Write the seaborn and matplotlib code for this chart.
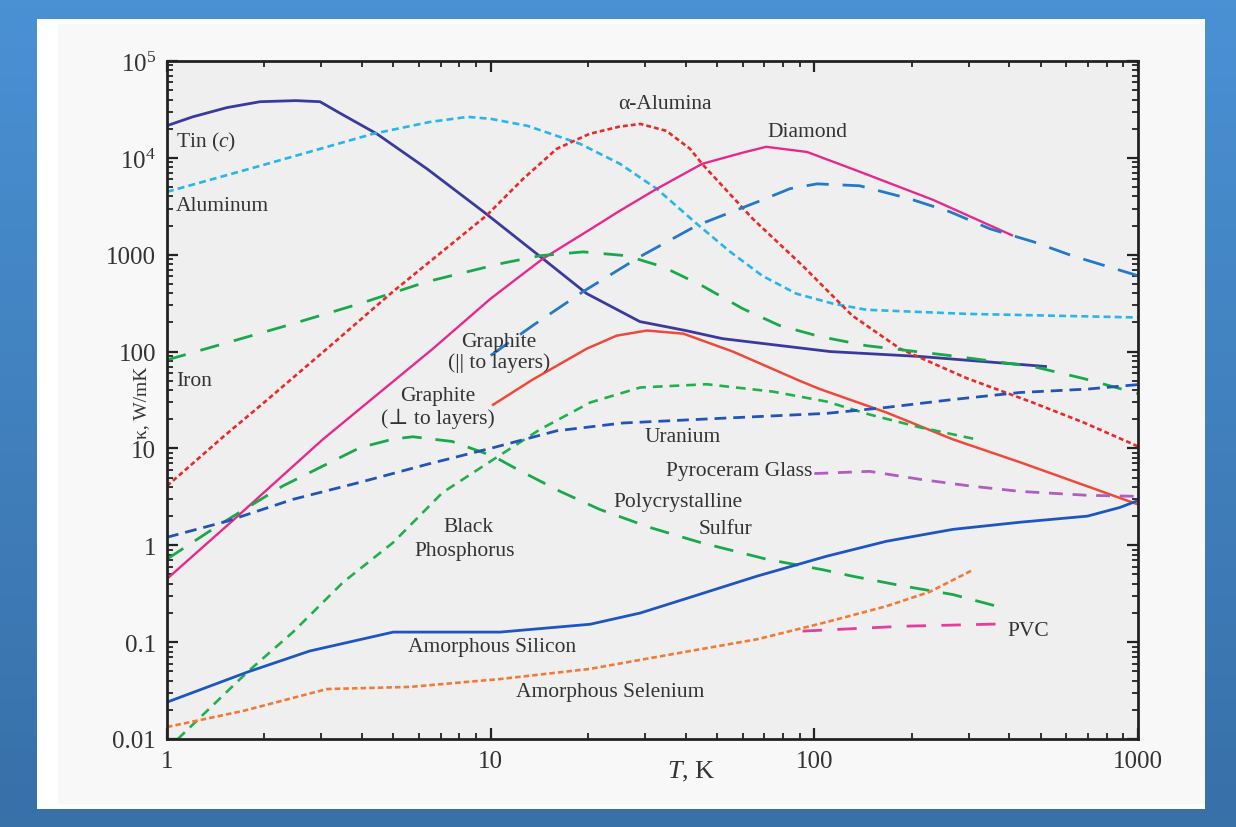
import numpy as np
import pandas as pd
import matplotlib
matplotlib.use("Agg")
import matplotlib.pyplot as plt
import seaborn as sns
from matplotlib.patches import Rectangle
from matplotlib.ticker import FixedLocator, FixedFormatter, LogLocator, NullFormatter

sns.set_style("ticks")
plt.rcParams['font.family'] = ['Liberation Serif', 'DejaVu Serif']
plt.rcParams['mathtext.fontset'] = 'custom'
plt.rcParams['mathtext.rm'] = 'Liberation Serif'
plt.rcParams['mathtext.it'] = 'Liberation Serif:italic'
plt.rcParams['lines.scale_dashes'] = False

# ---------------- data (T in K, kappa in W/mK) ----------------
tin_T = [1, 1.2, 1.53, 1.94, 2.5, 2.97, 3.4, 4.45, 6.36, 9.5, 14.5, 19.8, 28.9, 40, 52, 112, 212, 523]
tin_k = [21500, 26500, 33000, 38000, 39000, 38000, 29300, 17700, 7700, 2780, 910, 397, 204, 165, 136, 100, 89, 70]

al_T = [1, 1.94, 4.33, 6.5, 8.5, 10, 13, 18.9, 25.1, 32.6, 43.3, 55, 69, 88, 114, 145, 296, 1000]
al_k = [4460, 8270, 17700, 23500, 26500, 25300, 21400, 13950, 8670, 4790, 2090, 1070, 607, 396, 313, 270, 245, 225]

alu_T = [1, 1.5, 2, 3.12, 4.99, 9.7, 12.6, 16, 20.2, 25, 29, 34.9, 41.3, 45, 64.5, 92, 131, 184, 296, 470, 680, 1000]
alu_k = [4.1, 13.4, 30, 107, 416, 2530, 6070, 12400, 17700, 21000, 22400, 19000, 12400, 8670, 2350, 770, 235, 107, 53, 30, 18.5, 10.5]

dia_T = [1, 1.64, 3.03, 6.63, 10, 14.5, 20, 25.1, 32.6, 45, 60, 71, 95, 138, 232, 411]
dia_k = [0.45, 1.95, 12.4, 107, 352, 910, 1770, 2850, 4790, 8670, 11300, 13000, 11500, 7200, 3700, 1570]

gpar_T = [10, 13.5, 19.3, 29, 43.3, 68, 84, 102, 138, 197, 262, 349, 475, 626, 1000]
gpar_k = [91, 186, 416, 960, 2000, 3600, 4800, 5390, 5150, 3780, 2780, 1850, 1360, 976, 607]

gperp_T = [10.1, 13.5, 19.8, 24.5, 30.4, 39.4, 56, 90, 104, 167, 268, 432, 698, 1000]
gperp_k = [27.8, 51.5, 107, 146, 165, 153, 100, 50, 41, 23.5, 12.4, 7.2, 4.06, 2.64]

fe_T = [1, 2.35, 3.95, 6.35, 10.7, 14.2, 19.3, 26.3, 34, 45, 60, 78, 104, 145, 262, 475, 680, 1000]
fe_k = [82, 186, 313, 526, 808, 976, 1070, 976, 752, 479, 278, 186, 143, 115, 91, 70, 52.6, 36.8]

s_T = [1, 1.46, 2.28, 3.95, 5, 5.75, 7.6, 10.2, 12.1, 16.4, 21.7, 31, 44.4, 71, 106, 131, 188, 268, 366]
s_k = [0.72, 1.65, 4.1, 10.2, 12.5, 13.2, 11.8, 8.3, 6.07, 3.6, 2.35, 1.53, 1.07, 0.72, 0.56, 0.48, 0.38, 0.31, 0.235]

bp_T = [1.08, 1.77, 2.45, 3.5, 5, 7.1, 10.2, 14.2, 20.3, 29, 46.5, 74.5, 109, 148, 212, 310]
bp_k = [0.01, 0.049, 0.127, 0.415, 1.07, 3.5, 7.7, 15.7, 29.8, 42.6, 46, 38.6, 30.5, 22.4, 16.5, 12.6]

u_T = [1, 1.53, 2.45, 3.95, 6.35, 10.2, 16, 25.6, 52, 109, 167, 268, 432, 698, 1000]
u_k = [1.21, 1.77, 2.98, 4.47, 6.84, 10.2, 15.2, 18.3, 20.5, 23, 26.5, 32, 37.8, 41, 45.6]

pyro_T = [100, 148, 212, 302, 432, 698, 1000]
pyro_k = [5.5, 5.8, 4.8, 4.1, 3.6, 3.28, 3.2]

asi_T = [1, 1.77, 2.76, 5, 7.1, 10.7, 20.3, 29, 41.3, 66.5, 109, 167, 268, 432, 698, 880, 1000]
asi_k = [0.024, 0.049, 0.081, 0.127, 0.127, 0.127, 0.153, 0.2, 0.29, 0.48, 0.77, 1.1, 1.46, 1.73, 2.0, 2.46, 2.9]

ase_T = [1, 1.72, 3.12, 5.63, 10.7, 20.3, 41.3, 66.5, 109, 167, 227, 310]
ase_k = [0.0133, 0.0195, 0.0328, 0.0345, 0.0416, 0.053, 0.081, 0.107, 0.161, 0.235, 0.33, 0.56]

pvc_T = [92, 188, 268, 374]
pvc_k = [0.13, 0.146, 0.15, 0.154]

x_ticks = [1, 10, 100, 1000]
x_ticklabels = ["1", "10", "100", "1000"]
y_ticks = [0.01, 0.1, 1, 10, 100, 1000, 1e4, 1e5]
y_ticklabels = ["0.01", "0.1", "1", "10", "100", "1000", "$10^4$", "$10^5$"]

series = [
    (tin_T, tin_k, "#3a3a9c", None, 2.0),
    (al_T, al_k, "#27b5ea", (5, 3), 1.9),
    (alu_T, alu_k, "#e82a2a", (3.5, 2.2), 1.9),
    (dia_T, dia_k, "#e62a8c", None, 1.7),
    (gpar_T, gpar_k, "#2379c8", (16, 10), 2.0),
    (gperp_T, gperp_k, "#ee4a3a", None, 1.8),
    (fe_T, fe_k, "#1aa84c", (14, 11), 2.0),
    (s_T, s_k, "#1aa84c", (14, 10), 2.0),
    (bp_T, bp_k, "#22b04c", (7, 5), 1.9),
    (u_T, u_k, "#2254b6", (8.5, 5), 2.0),
    (pyro_T, pyro_k, "#b05cc0", (10, 7), 2.0),
    (asi_T, asi_k, "#1e56c0", None, 2.0),
    (ase_T, ase_k, "#f27a38", (4, 2.2), 1.9),
    (pvc_T, pvc_k, "#e0409c", (14, 11), 2.0),
]

# ---------------- figure & background ----------------
W, H = 1236, 828
fig = plt.figure(figsize=(W / 100, H / 100), dpi=100)
bg = fig.add_axes([0, 0, 1, 1], zorder=-10)
grad = np.linspace(0, 1, 256).reshape(-1, 1)
top_c = np.array([74, 145, 212]) / 255
bot_c = np.array([56, 112, 168]) / 255
img = top_c[None, None, :] * (1 - grad[:, :, None]) + bot_c[None, None, :] * grad[:, :, None]
bg.imshow(img, aspect='auto', extent=[0, 1, 0, 1], origin='upper')
bg.add_patch(Rectangle((37 / W, 1 - 810 / H), (1205 - 37) / W, (810 - 20) / H, facecolor='white', edgecolor='none'))
bg.add_patch(Rectangle((58 / W, 1 - 805 / H), (1205 - 58) / W, (805 - 25) / H, facecolor='#f8f8f8', edgecolor='none'))
bg.set_xlim(0, 1)
bg.set_ylim(0, 1)
bg.axis('off')

ax = fig.add_axes([167 / W, 1 - 740 / H, (1138 - 167) / W, (740 - 62) / H])
ax.set_facecolor('#efefef')

for T, k, col, dash, lw in series:
    df = pd.DataFrame({"T": T, "k": k})
    line_ax = sns.lineplot(data=df, x="T", y="k", ax=ax, estimator=None, sort=False,
                           color=col, linewidth=lw)
    ln = line_ax.get_lines()[-1]
    if dash is not None:
        ln.set_dashes(dash)
    ln.set_solid_capstyle('butt')
    ln.set_dash_capstyle('butt')

ax.set_xscale('log')
ax.set_yscale('log')
ax.set_xlim(1, 1000)
ax.set_ylim(0.01, 1e5)

ax.xaxis.set_major_locator(FixedLocator(x_ticks))
ax.xaxis.set_major_formatter(FixedFormatter(x_ticklabels))
ax.yaxis.set_major_locator(FixedLocator(y_ticks))
ax.yaxis.set_major_formatter(FixedFormatter(y_ticklabels))
ax.xaxis.set_minor_locator(LogLocator(base=10, subs=np.arange(2, 10), numticks=20))
ax.yaxis.set_minor_locator(LogLocator(base=10, subs=np.arange(2, 10), numticks=20))
ax.xaxis.set_minor_formatter(NullFormatter())
ax.yaxis.set_minor_formatter(NullFormatter())
ax.tick_params(which='both', direction='in', top=True, right=True, colors='#222222',
               labelcolor='#333333')
ax.tick_params(which='major', length=8, width=1.6, labelsize=18, pad=8)
ax.tick_params(which='minor', length=4.5, width=1.3)
for sp in ax.spines.values():
    sp.set_linewidth(2.0)
    sp.set_color('#222222')

ax.set_xlabel("$T$, K", fontsize=19, color='#333333')
ax.xaxis.set_label_coords(0.54, -0.03)
ax.set_ylabel("κ, W/mK", fontsize=14, color='#333333')
ax.yaxis.set_label_coords(-0.017, 0.497)

tk = dict(fontsize=15.5, color='#333333', zorder=10)
ax.text(1.066, 14600, "Tin ($c$)", ha='left', va='center', **tk)
ax.text(1.066, 3190, "Aluminum", ha='left', va='center', **tk)
ax.text(1.066, 50, "Iron", ha='left', va='center', **tk)
ax.text(34.5, 36000, "α-Alumina", ha='center', va='center', **tk)
ax.text(94.9, 18500, "Diamond", ha='center', va='center', **tk)
ax.text(10.6, 99, "Graphite\n(|| to layers)", ha='center', va='center', multialignment='center',
        linespacing=1.15, **tk)
ax.text(6.87, 26.9, "Graphite\n(⊥ to layers)", ha='center', va='center', multialignment='center',
        linespacing=1.15, **tk)
ax.text(39.3, 13.2, "Uranium", ha='center', va='center', **tk)
ax.text(98.3, 5.87, "Pyroceram Glass", ha='right', va='center', **tk)
ax.text(37.9, 2.81, "Polycrystalline", ha='center', va='center', **tk)
ax.text(53, 1.48, "Sulfur", ha='center', va='center', **tk)
ax.text(8.57, 1.55, "Black", ha='center', va='center', **tk)
ax.text(8.33, 0.877, "Phosphorus", ha='center', va='center', **tk)
ax.text(10.1, 0.0897, "Amorphous Silicon", ha='center', va='center', **tk)
ax.text(23.4, 0.0307, "Amorphous Selenium", ha='center', va='center', **tk)
ax.text(396, 0.131, "PVC", ha='left', va='center', **tk)

fig.savefig("out.png", dpi=100)
